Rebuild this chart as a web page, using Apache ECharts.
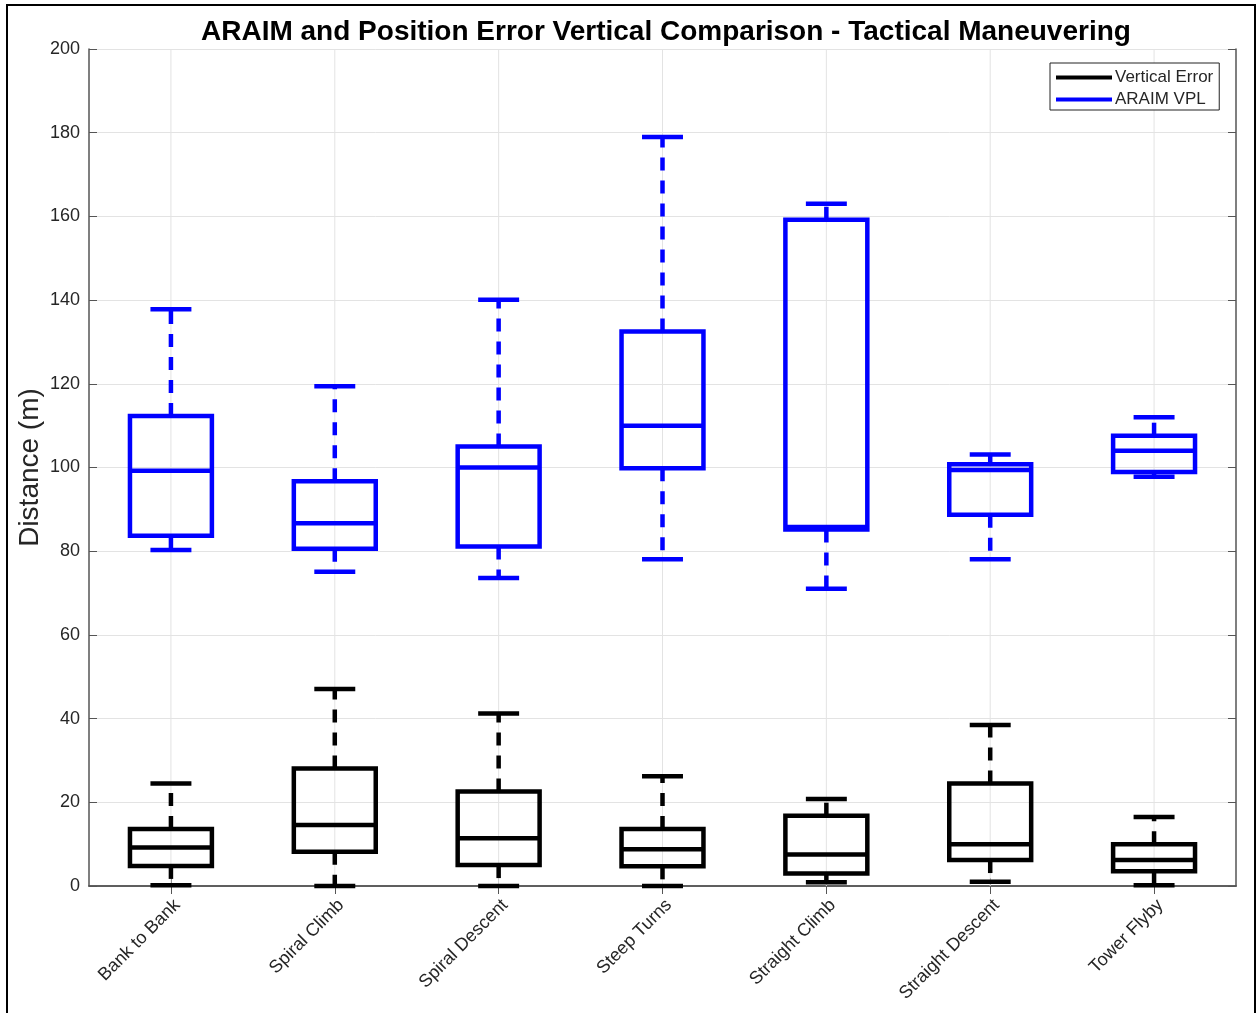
<!DOCTYPE html>
<html>
<head>
<meta charset="utf-8">
<script src="https://cdn.jsdelivr.net/npm/echarts@6/dist/echarts.min.js"></script>
<style>html,body{margin:0;padding:0;background:#fff;}#c{width:1257px;height:1013px;}</style>
</head>
<body>
<div id="c"></div>
<script>
// Categories
const categories = ['Bank to Bank', 'Spiral Climb', 'Spiral Descent', 'Steep Turns', 'Straight Climb', 'Straight Descent', 'Tower Flyby'];
// Each row: [lower whisker, Q1, median, Q3, upper whisker]
const vplStats = [
  [80.3, 83.7, 99.2, 112.3, 137.8],
  [75.1, 80.6, 86.7, 96.7, 119.4],
  [73.6, 81.1, 100.0, 105.0, 140.1],
  [78.1, 99.8, 110.0, 132.5, 179.0],
  [71.0, 85.2, 85.8, 159.2, 163.0],
  [78.1, 88.7, 99.4, 100.8, 103.1],
  [97.8, 98.9, 104.0, 107.6, 112.0]
];
const errStats = [
  [0.2, 4.8, 9.2, 13.6, 24.5],
  [0.0, 8.2, 14.6, 28.1, 47.1],
  [0.0, 5.0, 11.4, 22.6, 41.2],
  [0.0, 4.7, 8.8, 13.6, 26.2],
  [0.9, 3.0, 7.5, 16.8, 20.8],
  [1.0, 6.2, 10.0, 24.5, 38.5],
  [0.2, 3.5, 6.2, 10.0, 16.5]
];
const yTicks = {min: 0, max: 200, interval: 20};

function toData(stats) {
  return stats.map((s, i) => [i].concat(s));
}

function boxRender(color) {
  return function (params, api) {
    const i = api.value(0);
    const pMin = api.coord([i, api.value(1)]);
    const pQ1 = api.coord([i, api.value(2)]);
    const pMed = api.coord([i, api.value(3)]);
    const pQ3 = api.coord([i, api.value(4)]);
    const pMax = api.coord([i, api.value(5)]);
    const bw = api.size([1, 0])[0];
    const cx = pMed[0];
    const half = bw * 0.25;
    const capHalf = bw * 0.125;
    const lw = 4.5;
    const dash = [13, 10];
    return {
      type: 'group',
      children: [
        {type: 'line', shape: {x1: cx, y1: pQ3[1], x2: cx, y2: pMax[1]}, style: {stroke: color, lineWidth: lw, lineDash: dash}},
        {type: 'line', shape: {x1: cx, y1: pQ1[1], x2: cx, y2: pMin[1]}, style: {stroke: color, lineWidth: lw, lineDash: dash}},
        {type: 'line', shape: {x1: cx - capHalf, y1: pMax[1], x2: cx + capHalf, y2: pMax[1]}, style: {stroke: color, lineWidth: lw}},
        {type: 'line', shape: {x1: cx - capHalf, y1: pMin[1], x2: cx + capHalf, y2: pMin[1]}, style: {stroke: color, lineWidth: lw}},
        {type: 'rect', shape: {x: cx - half, y: pQ3[1], width: 2 * half, height: pQ1[1] - pQ3[1]}, style: {fill: 'none', stroke: color, lineWidth: lw}},
        {type: 'line', shape: {x1: cx - half, y1: pMed[1], x2: cx + half, y2: pMed[1]}, style: {stroke: color, lineWidth: lw}}
      ]
    };
  };
}

function gridRender(params, api) {
  const i = api.value(0);
  const p = api.coord([i, 0]);
  const cs = params.coordSys;
  return {type: 'line', shape: {x1: p[0], y1: cs.y, x2: p[0], y2: cs.y + cs.height}, style: {stroke: '#e3e3e3', lineWidth: 1}};
}

const chart = echarts.init(document.getElementById('c'), null, {renderer: 'canvas'});
const axisColor = '#555';
const labelColor = '#262626';
const font = 'Liberation Sans, Arial, sans-serif';

chart.setOption({
  animation: false,
  backgroundColor: '#fff',
  textStyle: {fontFamily: font},
  title: {
    text: 'ARAIM and Position Error Vertical Comparison - Tactical Maneuvering',
    left: 196, top: 13,
    textStyle: {fontSize: 28, fontWeight: 'bold', color: '#000', fontFamily: font}
  },
  graphic: [{
    type: 'rect', shape: {x: 7, y: 5, width: 1248, height: 1030},
    style: {fill: 'none', stroke: '#000', lineWidth: 2}, silent: true, z: 100
  }],
  legend: {
    orient: 'vertical', left: 1050, top: 63,
    backgroundColor: '#fff', borderColor: '#222', borderWidth: 1,
    padding: [6, 6, 2, 6], itemGap: 5,
    itemWidth: 56, itemHeight: 4,
    textStyle: {fontSize: 17, color: labelColor, padding: [0, 0, 0, -2]},
    data: [{name: 'Vertical Error', icon: 'rect'}, {name: 'ARAIM VPL', icon: 'rect'}]
  },
  grid: {left: 89, right: 21, top: 49, bottom: 127, containLabel: false},
  xAxis: [{
    type: 'category', data: categories, boundaryGap: true,
    axisLine: {lineStyle: {color: axisColor, width: 1.5}},
    axisTick: {show: true, inside: true, alignWithLabel: true, length: 8, lineStyle: {color: axisColor}},
    axisLabel: {rotate: 45, fontSize: 18, color: labelColor, margin: 10, verticalAlign: 'top', fontFamily: font},
    splitLine: {show: false}
  }, {
    type: 'category', data: categories, boundaryGap: true, position: 'top',
    axisLine: {lineStyle: {color: axisColor, width: 1.5}},
    axisTick: {show: true, inside: true, alignWithLabel: true, length: 8, lineStyle: {color: axisColor}},
    axisLabel: {show: false}, splitLine: {show: false}
  }],
  yAxis: [{
    type: 'value', min: yTicks.min, max: yTicks.max, interval: yTicks.interval,
    name: 'Distance (m)', nameLocation: 'middle', nameGap: 45, nameMoveOverlap: false,
    nameTextStyle: {fontSize: 28, color: labelColor, fontFamily: font},
    axisLine: {show: true, lineStyle: {color: axisColor, width: 1.5}},
    axisTick: {show: true, inside: true, length: 8, lineStyle: {color: axisColor}},
    axisLabel: {fontSize: 18, color: labelColor, margin: 9, fontFamily: font},
    splitLine: {show: true, lineStyle: {color: '#e3e3e3', width: 1}}
  }, {
    type: 'value', min: yTicks.min, max: yTicks.max, interval: yTicks.interval, position: 'right',
    axisLine: {show: true, lineStyle: {color: axisColor, width: 1.5}},
    axisTick: {show: true, inside: true, length: 8, lineStyle: {color: axisColor}},
    axisLabel: {show: false}, splitLine: {show: false}
  }],
  series: [{
    name: 'gridX', type: 'custom', renderItem: gridRender, silent: true, z: 1,
    data: categories.map((c, i) => [i]), encode: {x: 0, y: 0}
  }, {
    name: 'Vertical Error', type: 'custom', renderItem: boxRender('#000000'), z: 3,
    itemStyle: {color: '#000000'},
    data: toData(errStats), encode: {x: 0, y: [1, 2, 3, 4, 5]}
  }, {
    name: 'ARAIM VPL', type: 'custom', renderItem: boxRender('#0000ff'), z: 3,
    itemStyle: {color: '#0000ff'},
    data: toData(vplStats), encode: {x: 0, y: [1, 2, 3, 4, 5]}
  }]
});
</script>
</body>
</html>
